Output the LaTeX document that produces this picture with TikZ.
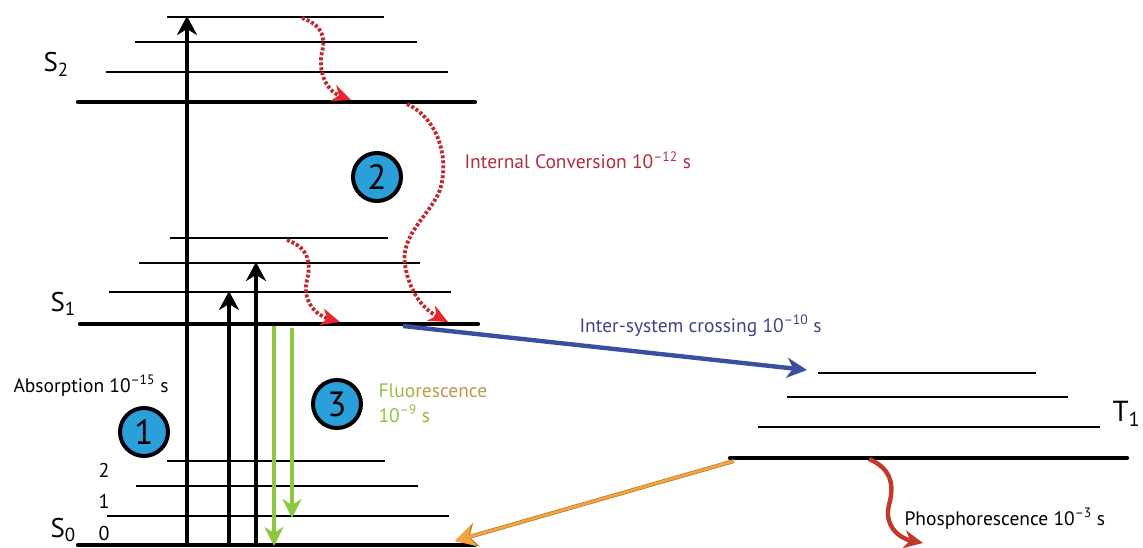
\documentclass[tikz,border=0pt]{standalone}
\usepackage{fontspec}
\setmainfont{PT Sans}
\usetikzlibrary{arrows.meta}

\definecolor{dotred}{HTML}{C1272D}
\definecolor{tipred}{HTML}{E8262B}
\definecolor{icred}{HTML}{B32D3A}
\definecolor{iscblue}{HTML}{3B4FA0}
\definecolor{isctext}{HTML}{3F4385}
\definecolor{fluogreen}{HTML}{8DC63F}
\definecolor{fluobrown}{HTML}{C8904A}
\definecolor{phosorange}{HTML}{F4A340}
\definecolor{phosred}{HTML}{C0392B}
\definecolor{ballblue}{HTML}{2B9FD9}

\newcommand{\txt}{\fontsize{19.5}{21}\selectfont}
\newcommand{\mns}{\textendash}

\begin{document}
\begin{tikzpicture}[x=1pt,y=-1pt,
  lvl/.style={line width=1.5pt},
  ground/.style={line width=4.2pt, line cap=round},
  absorb/.style={line width=4.2pt, -{Stealth[length=19pt,width=20pt,inset=6pt]}},
  fluo/.style={fluogreen, line width=4pt, -{Stealth[length=19pt,width=19pt,inset=6pt]}},
  ic/.style={dotred, line width=3.8pt, dash pattern=on 3pt off 2pt,
    -{Stealth[tipred,length=19pt,width=17pt,inset=6pt]}},
  ball/.style={circle, draw, line width=4pt, fill=ballblue, minimum size=48pt,
    inner sep=0pt, font=\fontsize{35}{35}\selectfont},
  state/.style={anchor=base west, font=\fontsize{27}{27}\selectfont},
  vib/.style={anchor=base west, font=\fontsize{20}{20}\selectfont}]

\useasboundingbox (0,0) rectangle (1143,548);
\clip (0,0) rectangle (1143,548);

% vibrational levels (y / left / right)
\foreach \y/\a/\b in {17/167/384, 42/135/417, 72/106/448,
                      238/170/388, 263/139/420, 292/109/451,
                      461/167/385, 486/136/418, 516/107/449,
                      373/818/1036, 397/787/1068, 427/758/1100}
  \draw[lvl] (\a,\y) -- (\b,\y);
% ground levels of S2, S1, S0, T1
\foreach \y/\a/\b in {102/78/475, 324/80/478, 545/78/475, 458/730/1127}
  \draw[ground] (\a,\y) -- (\b,\y);

\node[state] (s2) at (40,72) {S\textsubscript{2}};
\node[state] (s1) at (47,311) {S\textsubscript{1}};
\node[state] (s0) at (47,537) {S\textsubscript{0}};
\node[state, font=\fontsize{29}{29}\selectfont] (t1) at (1109,421) {T\textsubscript{1}};
\foreach \v/\y in {2/477, 1/508, 0/540}
  \node[vib] (v\v) at (95,\y) {\v};

\coordinate (a1) at (187,545); \coordinate (a1e) at (187,16);
\coordinate (a2) at (229,545); \coordinate (a2e) at (229,291);
\coordinate (a3) at (256,545); \coordinate (a3e) at (256,262);
\coordinate (f1) at (274,326); \coordinate (f1e) at (274,546);
\coordinate (f2) at (292,328); \coordinate (f2e) at (292,518);
\coordinate (ic1) at (302,18);  \coordinate (ic1e) at (351,100);
\coordinate (ic2) at (407,104); \coordinate (ic2e) at (448,322);
\coordinate (ic3) at (287,240); \coordinate (ic3e) at (340,322);
\coordinate (isc) at (403,326); \coordinate (isce) at (807,370);
\coordinate (ph) at (734,461);  \coordinate (phe) at (455,541);
\coordinate (pr) at (869,459);  \coordinate (pre) at (923,543);

\draw[absorb] (a1) -- (a1e);
\draw[absorb] (a2) -- (a2e);
\draw[absorb] (a3) -- (a3e);
\draw[fluo] (f1) -- (f1e);
\draw[fluo] (f2) -- (f2e);

\draw[ic] (ic1) .. controls (322,25) and (326,37) .. (322,52)
  .. controls (318,70) and (325,90) .. (ic1e);
\draw[ic] (ic2) .. controls (440,120) and (449,160) .. (440,190)
  .. controls (430,215) and (400,235) .. (405,265)
  .. controls (410,295) and (425,310) .. (ic2e);
\draw[ic] (ic3) .. controls (310,248) and (311,265) .. (307,280)
  .. controls (302,300) and (315,315) .. (ic3e);

\draw[iscblue, line width=4.4pt, -{Stealth[length=20pt,width=20pt,inset=6pt]}] (isc) -- (isce);
\draw[phosorange!70!black, line width=4pt, -{Stealth[length=22pt,width=24pt,inset=7pt]}] (ph) -- (phe);
\draw[phosorange, line width=2.8pt, -{Stealth[length=20pt,width=22pt,inset=6pt]}] (ph) -- (phe);
\draw[phosred, line width=4.4pt, -{Stealth[length=19pt,width=18pt,inset=6pt]}] (pr)
  .. controls (895,470) and (893,490) .. (889,505)
  .. controls (884,525) and (898,538) .. (pre);

\node[ball] (c1) at (144,432) {1};
\node[ball] (c2) at (377,177) {2};
\node[ball] (c3) at (337,404) {3};

\node[anchor=base west, font=\txt] (abs) at (10,392)
  {Absorption 10\textsuperscript{\mns15} s};
\node[anchor=base west, font=\txt, text=icred] (icl) at (461,169)
  {Internal Conversion 10\textsuperscript{\mns12} s};
\node[anchor=base west, font=\txt, text=isctext] (iscl) at (576,332)
  {Inter-system crossing 10\textsuperscript{\mns10} s};
\node[anchor=base west, font=\txt, align=left] (fl) at (375,397)
  {\textcolor{fluogreen}{Fl}\textcolor{fluogreen!70!fluobrown}{uo}\textcolor{fluogreen!35!fluobrown}{res}\textcolor{fluobrown}{cen}\textcolor{fluobrown!70!fluogreen}{ce}};
\node[anchor=base west, font=\txt] (fls) at (375,422)
  {\textcolor{fluogreen}{10}\textcolor{fluogreen!60!fluobrown}{\textsuperscript{\mns9} s}};
\node[anchor=base west, font=\txt] (phl) at (901,525)
  {Phosphorescence 10\textsuperscript{\mns3} s};
\end{tikzpicture}
\end{document}
